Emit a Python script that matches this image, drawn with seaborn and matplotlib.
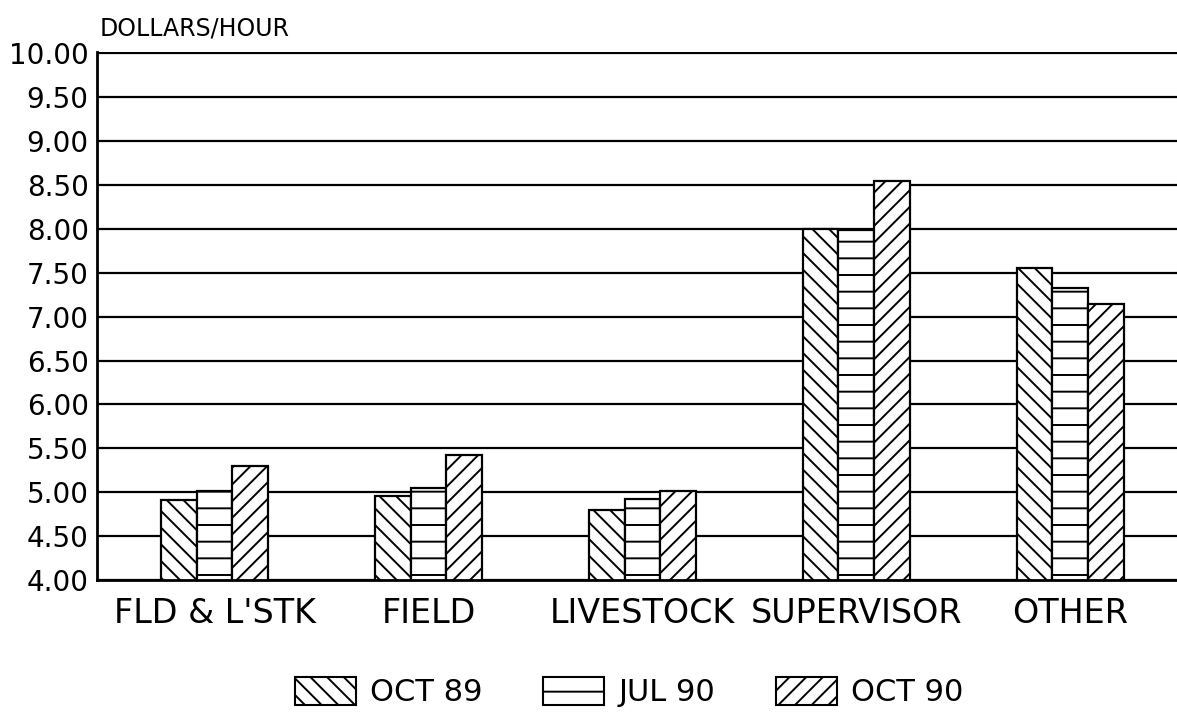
import numpy as np
import pandas as pd
import matplotlib
matplotlib.use("Agg")
import matplotlib.pyplot as plt
import seaborn as sns
from matplotlib.patches import Patch

# ─────────────────────────────────────────────
# DATA
# ─────────────────────────────────────────────
JOBS = ["FLD & L'STK", "FIELD", "LIVESTOCK", "SUPERVISOR", "OTHER"]
PERIODS = ["OCT 89", "JUL 90", "OCT 90"]
OCT_89 = [4.91, 4.96, 4.80, 8.00, 7.55]
JUL_90 = [5.01, 5.05, 4.92, 7.99, 7.33]
OCT_90 = [5.30, 5.42, 5.01, 8.54, 7.14]
YTICKS = [4.0, 4.5, 5.0, 5.5, 6.0, 6.5, 7.0, 7.5, 8.0, 8.5, 9.0, 9.5, 10.0]
HATCHES = ["\\\\", "-", "//"]

W, H = 1177, 724

sns.set_theme(style="white")
plt.rcParams["font.family"] = ["DejaVu Sans"]
plt.rcParams["text.color"] = "black"
plt.rcParams["hatch.linewidth"] = 1.4
plt.rcParams["hatch.color"] = "black"

df = pd.DataFrame({
    "job": JOBS * 3,
    "period": np.repeat(PERIODS, len(JOBS)),
    "wage": OCT_89 + JUL_90 + OCT_90,
})

fig = plt.figure(figsize=(W / 100, H / 100), dpi=100)
ax = fig.add_axes([97 / W, 1 - 580 / H, 1 - 97 / W, (580 - 52) / H])
ax.set_axisbelow(True)

sns.barplot(
    data=df, x="job", y="wage", hue="period",
    order=JOBS, hue_order=PERIODS,
    palette=["white"] * 3, saturation=1,
    edgecolor="black", linewidth=1.6,
    width=0.5, gap=0, legend=False, ax=ax,
)

# hatch per period, like the original print
for cont, h in zip(ax.containers, HATCHES):
    for bar in cont:
        bar.set_hatch(h)

ax.set_ylim(4, 10.015)
ax.set_xlim(-0.55, 4.5)
ax.set_yticks(YTICKS)
ax.set_yticklabels([f"{t:.2f}" for t in YTICKS])
ax.yaxis.grid(True, color="black", linewidth=1.6)
ax.xaxis.grid(False)
ax.set_xlabel("")
ax.set_ylabel("")

for side in ["top", "right"]:
    ax.spines[side].set_visible(False)
for side in ["left", "bottom"]:
    ax.spines[side].set_color("black")
    ax.spines[side].set_linewidth(2)

ax.tick_params(axis="y", length=0, labelsize=20, pad=6, colors="black")
ax.tick_params(axis="x", length=0, labelsize=24, pad=12, colors="black")

fig.text(100 / W, 1 - 28 / H, "DOLLARS/HOUR", fontsize=17, va="center", ha="left")

handles = [Patch(facecolor="white", edgecolor="black", hatch=h, linewidth=1.5, label=p)
           for h, p in zip(HATCHES, PERIODS)]
fig.legend(handles=handles, loc="center", bbox_to_anchor=(629 / W, 1 - 692 / H),
           ncol=3, frameon=False, fontsize=22, handlelength=2.0, handleheight=1.05,
           handletextpad=0.45, columnspacing=2.0)

fig.savefig("out.png", dpi=100)
plt.close(fig)
